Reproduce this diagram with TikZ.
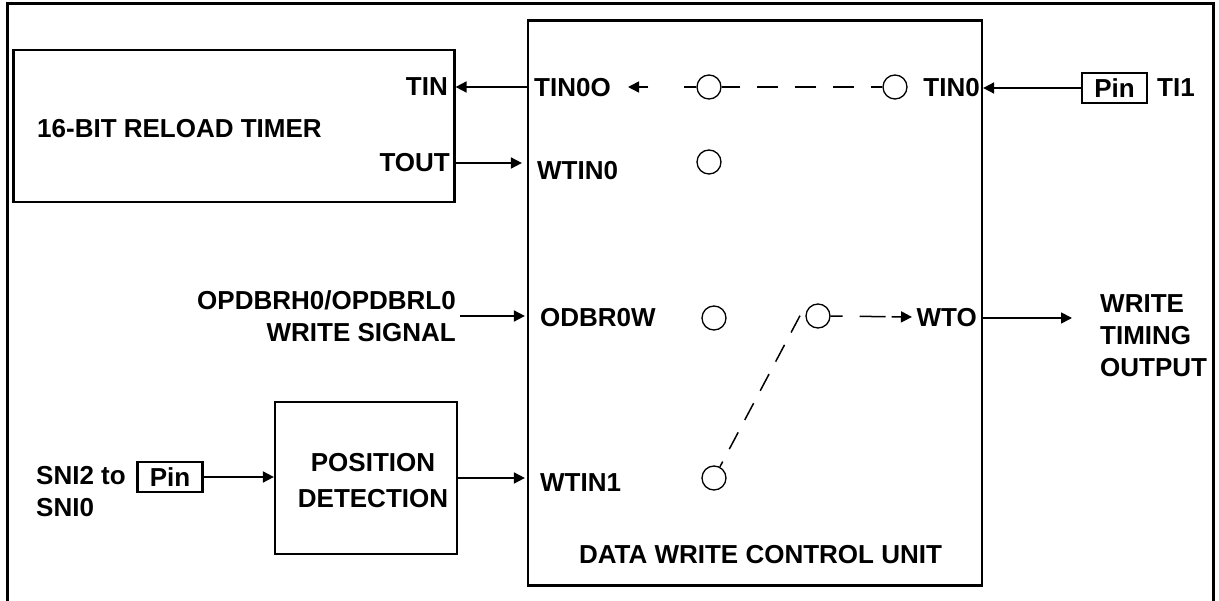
\documentclass[tikz,border=0pt]{standalone}
\usepackage{fontspec}
\setmainfont{Liberation Sans}
\usetikzlibrary{arrows.meta,calc}
\begin{document}
\begin{tikzpicture}[x=1pt,y=-1pt,
  every node/.style={font=\fontsize{26}{32}\selectfont\bfseries, inner sep=0pt},
  box/.style={draw, line width=2.2pt},
  pinbox/.style={draw, line width=2.2pt, minimum width=65pt, minimum height=30pt},
  sw/.style={draw, circle, line width=1.3pt, minimum size=24pt},
  tip/.style={-{Triangle[length=11pt,width=11pt]}},
  arr/.style={line width=1.7pt, tip},
  dsh/.style={line width=1.5pt, dash pattern=on 21pt off 17pt},
  line join=miter]
\useasboundingbox (0,0) rectangle (1219,601);
% outer frame (open at the bottom)
\draw[line width=3pt] (7.5,601) -- (7.5,3.5) -- (1213.5,3.5) -- (1213.5,601);

% boxes
\node[box, minimum width=441pt, minimum height=152pt] (timer) at (234,126) {};
\node[box, minimum width=454pt, minimum height=565pt] (dwcu) at (755,303) {};
\node[box, minimum width=182pt, minimum height=152pt] (pos) at (366,478) {};
\node[pinbox] (pint) at (1114.5,88) {Pin};
\node[pinbox] (pinb) at (170,477) {Pin};

% texts
\node[anchor=west] (ttl) at (37,129) {16-BIT RELOAD TIMER};
\node[anchor=east] (tin) at (448,87) {TIN};
\node[anchor=east] (tout) at (450,163) {TOUT};
\node[anchor=west] (tin0o) at (534,88) {TIN0O};
\node[anchor=west] (wtin0) at (537,171) {WTIN0};
\node[anchor=west] (odbr) at (540,318) {ODBR0W};
\node[anchor=west] (wtin1) at (540,483) {WTIN1};
\node[anchor=east] (tin0) at (980,88) {TIN0};
\node[anchor=east] (wto) at (977,318) {WTO};
\node[anchor=west] (ti1) at (1157,88) {TI1};
\node (dwcuttl) at (760.5,555) {DATA WRITE CONTROL UNIT};
\node[anchor=east, align=right] (opd) at (456,316) {OPDBRH0/OPDBRL0\\WRITE SIGNAL};
\node[anchor=west, align=left] (wtout) at (1100,336) {WRITE\\TIMING\\OUTPUT};
\node[anchor=west, align=left] (sni) at (36,492) {SNI2 to\\SNI0};
\node[align=center, font=\fontsize{26}{36}\selectfont\bfseries] (posttl) at (373,481) {POSITION\\DETECTION};

% switch contacts
\node[sw] (c1) at (709,87) {};
\node[sw] (c2) at (895,87) {};
\node[sw] (c3) at (709,162) {};
\node[sw] (c4) at (714,318) {};
\node[sw] (c5) at (818,316) {};
\node[sw] (c6) at (714,478) {};
\coordinate (tiptin) at (628,87);
\coordinate (swtop) at (803,310);
\coordinate (tipwto) at (912,317);
\coordinate (outtip) at (1072,318);

% connectors
\draw[arr] (dwcu.west |- tin) -- (timer.east |- tin);
\draw[arr] (timer.east |- tout) -- ($(dwcu.west |- tout)+(-5,0)$);
\draw[arr] ($(opd.east)+(4,0)$) -- ($(dwcu.west |- opd.east)+(-2,0)$);
\draw[arr] (pinb.east) -- (pos.west |- pinb.east);
\draw[arr] (pos.east) -- ($(dwcu.west |- pos.east)+(-2,0)$);
\draw[arr] (pint.west) -- (dwcu.east |- pint.west);
\draw[arr] (dwcu.east |- wto) -- (outtip);

% dashed switch paths
\draw[dsh, dash phase=10pt] (c2.west) -- (c1.east);
\draw[line width=1.5pt, dash pattern=on 12pt off 36pt on 40pt, tip] (c1.west) -- (tiptin);
\draw[dsh, dash pattern=on 19pt off 14pt, dash phase=13pt] (c6) -- (swtop);
\draw[line width=1.5pt, dash pattern=on 12pt off 17pt on 26pt off 6pt on 40pt, tip] (c5.east) -- (tipwto);
\end{tikzpicture}
\end{document}
